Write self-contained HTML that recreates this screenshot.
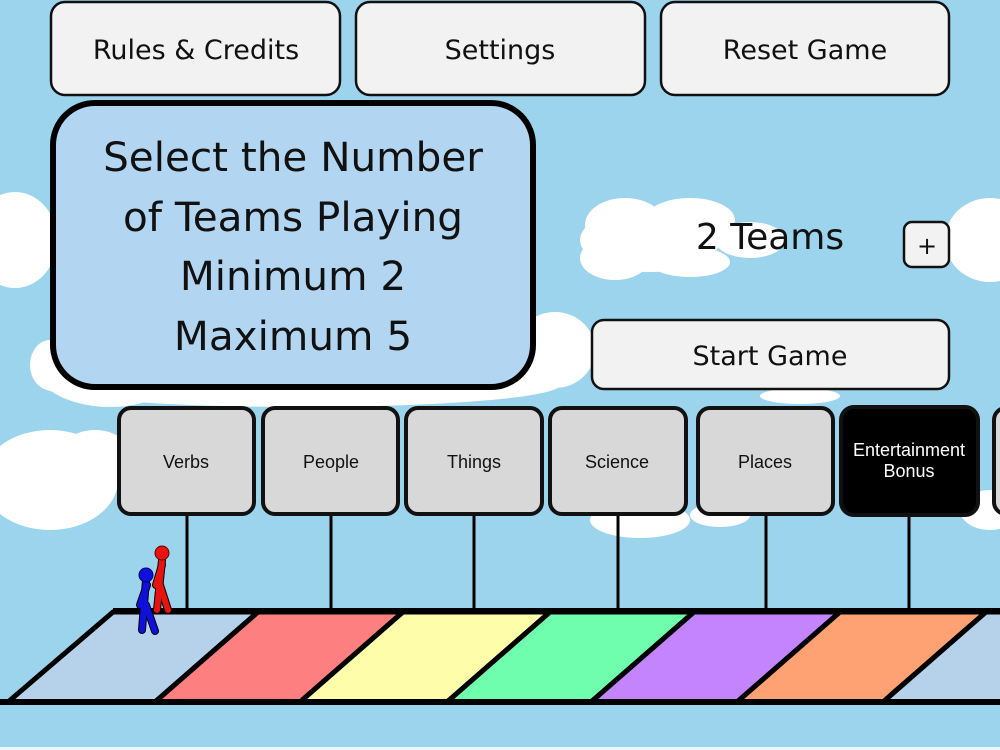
<!DOCTYPE html>
<html><head><style>
html,body{margin:0;padding:0;width:1000px;height:750px;overflow:hidden;background:#9cd4ee}
svg{display:block}
text{font-family:"DejaVu Sans","Liberation Sans",sans-serif}
.s{font-family:"Liberation Sans",sans-serif;font-size:18px;text-anchor:middle}
</style></head><body>
<svg width="1000" height="750" viewBox="0 0 1000 750">
<rect width="1000" height="750" fill="#9cd4ee"/>
<g fill="#fff">
 <ellipse cx="15" cy="240" rx="42" ry="48"/>
 <ellipse cx="650" cy="240" rx="70" ry="32"/><ellipse cx="625" cy="225" rx="40" ry="27"/><ellipse cx="690" cy="220" rx="45" ry="22"/><ellipse cx="615" cy="258" rx="35" ry="22"/><ellipse cx="690" cy="262" rx="40" ry="15"/><ellipse cx="750" cy="240" rx="35" ry="18"/>
 <ellipse cx="990" cy="240" rx="45" ry="42"/>
 <ellipse cx="110" cy="365" rx="75" ry="42"/><ellipse cx="50" cy="365" rx="20" ry="25"/>
 <ellipse cx="300" cy="385" rx="260" ry="22"/><ellipse cx="470" cy="365" rx="90" ry="35"/><ellipse cx="555" cy="350" rx="40" ry="38"/>
 <ellipse cx="50" cy="480" rx="68" ry="50"/><ellipse cx="95" cy="455" rx="35" ry="25"/>
 <ellipse cx="640" cy="520" rx="50" ry="18"/><ellipse cx="720" cy="515" rx="30" ry="12"/>
 <ellipse cx="990" cy="510" rx="30" ry="20"/>
 <ellipse cx="800" cy="396" rx="40" ry="8"/>
</g>
<g fill="#f2f2f2" stroke="#111" stroke-width="2.5">
 <rect x="51" y="2" width="289" height="93" rx="14"/>
 <rect x="356" y="2" width="289" height="93" rx="14"/>
 <rect x="661" y="2" width="288" height="93" rx="14"/>
 <rect x="592" y="320" width="357" height="69" rx="12"/>
 <rect x="904" y="222" width="45" height="45" rx="8"/>
</g>
<g font-size="27" text-anchor="middle" fill="#111">
 <text x="196" y="59">Rules &amp; Credits</text>
 <text x="500" y="59">Settings</text>
 <text x="805" y="59">Reset Game</text>
 <text x="770" y="365">Start Game</text>
 <text x="927" y="254" font-size="24">+</text>
 <text x="770" y="249" font-size="36">2 Teams</text>
</g>
<rect x="53" y="103" width="480" height="284" rx="42" fill="#b2d6f2" stroke="#000" stroke-width="6"/>
<g font-size="40.5" text-anchor="middle" fill="#111">
 <text x="293" y="171">Select the Number</text>
 <text x="293" y="231">of Teams Playing</text>
 <text x="293" y="290">Minimum 2</text>
 <text x="293" y="350">Maximum 5</text>
</g>
<g stroke="#000" stroke-width="3">
 <line x1="187" y1="512" x2="187" y2="612"/><line x1="331" y1="512" x2="331" y2="612"/>
 <line x1="474" y1="512" x2="474" y2="612"/><line x1="618" y1="512" x2="618" y2="612"/>
 <line x1="766" y1="512" x2="766" y2="612"/><line x1="909" y1="512" x2="909" y2="612"/>
</g>
<g fill="#d8d8d8" stroke="#111" stroke-width="4">
 <rect x="119" y="408" width="135" height="106" rx="12"/>
 <rect x="263" y="408" width="135" height="106" rx="12"/>
 <rect x="406" y="408" width="136" height="106" rx="12"/>
 <rect x="550" y="408" width="136" height="106" rx="12"/>
 <rect x="698" y="408" width="135" height="106" rx="12"/>
 <rect x="841" y="407" width="137" height="108" rx="13" fill="#000"/>
 <rect x="994" y="408" width="40" height="106" rx="12"/>
</g>
<g fill="#111">
 <text class="s" x="186" y="468">Verbs</text>
 <text class="s" x="331" y="468">People</text>
 <text class="s" x="474" y="468">Things</text>
 <text class="s" x="617" y="468">Science</text>
 <text class="s" x="765" y="468">Places</text>
 <text class="s" x="909" y="456" fill="#fff">Entertainment</text>
 <text class="s" x="909" y="477" fill="#fff">Bonus</text>
</g>
<g stroke="#000" stroke-width="5" stroke-linejoin="round">
 <polygon points="113,612 258,612 155,702 8,702" fill="#b5d2ea"/>
 <polygon points="258,612 403,612 300,702 155,702" fill="#fe7f7f"/>
 <polygon points="403,612 550,612 447,702 300,702" fill="#fefeaa"/>
 <polygon points="550,612 694,612 591,702 447,702" fill="#6efeae"/>
 <polygon points="694,612 840,612 737,702 591,702" fill="#c384fe"/>
 <polygon points="840,612 986,612 883,702 737,702" fill="#fea274"/>
 <polygon points="986,612 1010,612 1010,702 883,702" fill="#b5d2ea"/>
 <line x1="0" y1="702" x2="1000" y2="702" stroke-width="6"/>
 <line x1="113" y1="611" x2="1000" y2="611" stroke-width="6"/>
</g>
<g stroke-linecap="round">
 <g stroke="#000" stroke-width="8"><line x1="162" y1="560" x2="157" y2="610"/><line x1="160" y1="585" x2="168" y2="610"/><line x1="162" y1="565" x2="156" y2="585"/></g>
 <g stroke="#e8120f" stroke-width="6"><line x1="162" y1="560" x2="157" y2="610"/><line x1="160" y1="585" x2="168" y2="610"/><line x1="162" y1="565" x2="156" y2="585"/></g>
 <circle cx="162" cy="553" r="7" fill="#e8120f" stroke="#600" stroke-width="1"/>
 <g stroke="#000" stroke-width="8"><line x1="146" y1="580" x2="142" y2="630"/><line x1="146" y1="605" x2="155" y2="631"/><line x1="147" y1="585" x2="140" y2="605"/></g>
 <g stroke="#1010dd" stroke-width="6"><line x1="146" y1="580" x2="142" y2="630"/><line x1="146" y1="605" x2="155" y2="631"/><line x1="147" y1="585" x2="140" y2="605"/></g>
 <circle cx="146" cy="575" r="7" fill="#1010dd" stroke="#006" stroke-width="1"/>
</g>
<rect x="0" y="747" width="1000" height="3" fill="#eef6fb"/>
</svg>
</body></html>
